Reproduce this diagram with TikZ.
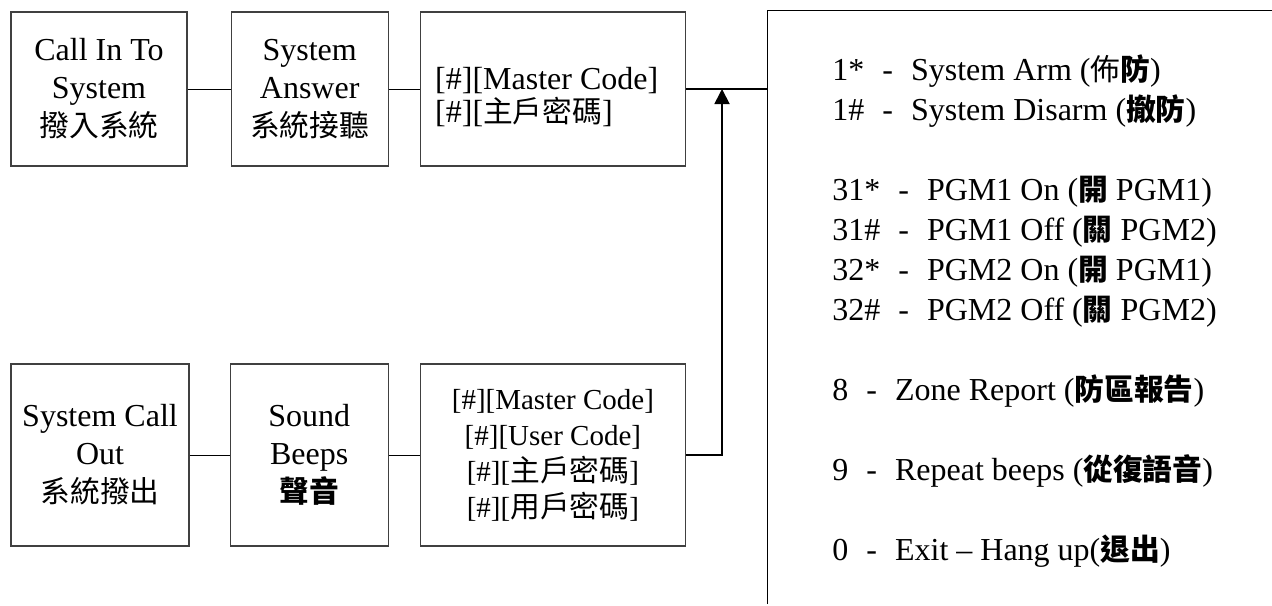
\documentclass[tikz,border=0pt]{standalone}
\usepackage{fontspec}
\setmainfont{Liberation Serif}
\newfontfamily\cjk[Scale=0.93]{Noto Sans CJK TC}
\usetikzlibrary{arrows.meta,positioning}
\newcommand{\dash}{\hspace{9pt}-\hspace{9pt}}
\newcommand{\bcjk}[1]{{\cjk\bfseries #1}}

\begin{document}
\begin{tikzpicture}[x=0.5pt,y=-0.5pt,
  box/.style={draw=black!75,line width=0.6pt,align=center,inner sep=0pt,
              font=\fontsize{16}{19}\selectfont},
  link/.style={draw,line width=0.5pt},
  trunk/.style={draw,line width=0.9pt},
  feed/.style={trunk,-{Triangle[width=7.5pt,length=7.5pt]}}]
\useasboundingbox (0,0) rectangle (1272,605);
% top row: call in
\node[box,minimum width=88pt,minimum height=77pt] (callin) at (99,89)
  {Call In To\\System\\{\cjk 撥入系統}};
\node[box,minimum width=78.5pt,minimum height=77pt,right=21.5pt of callin] (answer)
  {System\\Answer\\{\cjk 系統接聽}};
\node[box,minimum width=132.5pt,minimum height=77pt,right=15.5pt of answer,
      label={[align=left,inner sep=0pt,anchor=west,xshift=7.5pt,yshift=-4pt,
              font=\fontsize{16}{16.5}\selectfont]west:[\#][Master Code]\\{}[\#][{\cjk 主戶密碼}]}] (master) {};
% bottom row: call out
\node[box,minimum width=89pt,minimum height=91pt] (callout) at (100,455)
  {System Call\\Out\\{\cjk 系統撥出}};
\node[box,minimum width=79pt,minimum height=91pt,right=20pt of callout] (beeps)
  {Sound\\Beeps\\\bcjk{聲音}};
\node[box,minimum width=132.5pt,minimum height=91pt,right=15.5pt of beeps,
      font=\fontsize{14.5}{18}\selectfont] (codes)
  {[\#][Master Code]\\{}[\#][User Code]\\{}[\#][{\cjk\fontsize{16}{18}\selectfont 主戶密碼}]\\{}[\#][{\cjk\fontsize{16}{18}\selectfont 用戶密碼}]};
% command panel
\draw[link] (767,604) -- (767,10) -- (1272,10);
\coordinate (panel) at (767,89);
\coordinate (join) at (722,89);
\node[anchor=north west,inner sep=0pt,align=left,font=\fontsize{16}{20}\selectfont] (menu) at (832,54)
  {1*\dash System Arm ({\cjk 佈}\bcjk{防})\\
   1\#\dash System Disarm (\bcjk{撤防})\\[20pt]
   31*\dash PGM1 On (\bcjk{開} PGM1)\\
   31\#\dash PGM1 Off (\bcjk{關} PGM2)\\
   32*\dash PGM2 On (\bcjk{開} PGM1)\\
   32\#\dash PGM2 Off (\bcjk{關} PGM2)\\[20pt]
   8\dash Zone Report (\bcjk{防區報告})\\[20pt]
   9\dash Repeat beeps (\bcjk{從復語音})\\[20pt]
   0\dash Exit -- Hang up(\bcjk{退出})};
% connectors
\draw[link] (callin) -- (answer);
\draw[link] (answer) -- (master);
\draw[trunk] (master.east) -- (panel);
\draw[link] (callout) -- (beeps);
\draw[link] (beeps) -- (codes);
\draw[feed] (codes.east) -| (join);
\end{tikzpicture}
\end{document}
